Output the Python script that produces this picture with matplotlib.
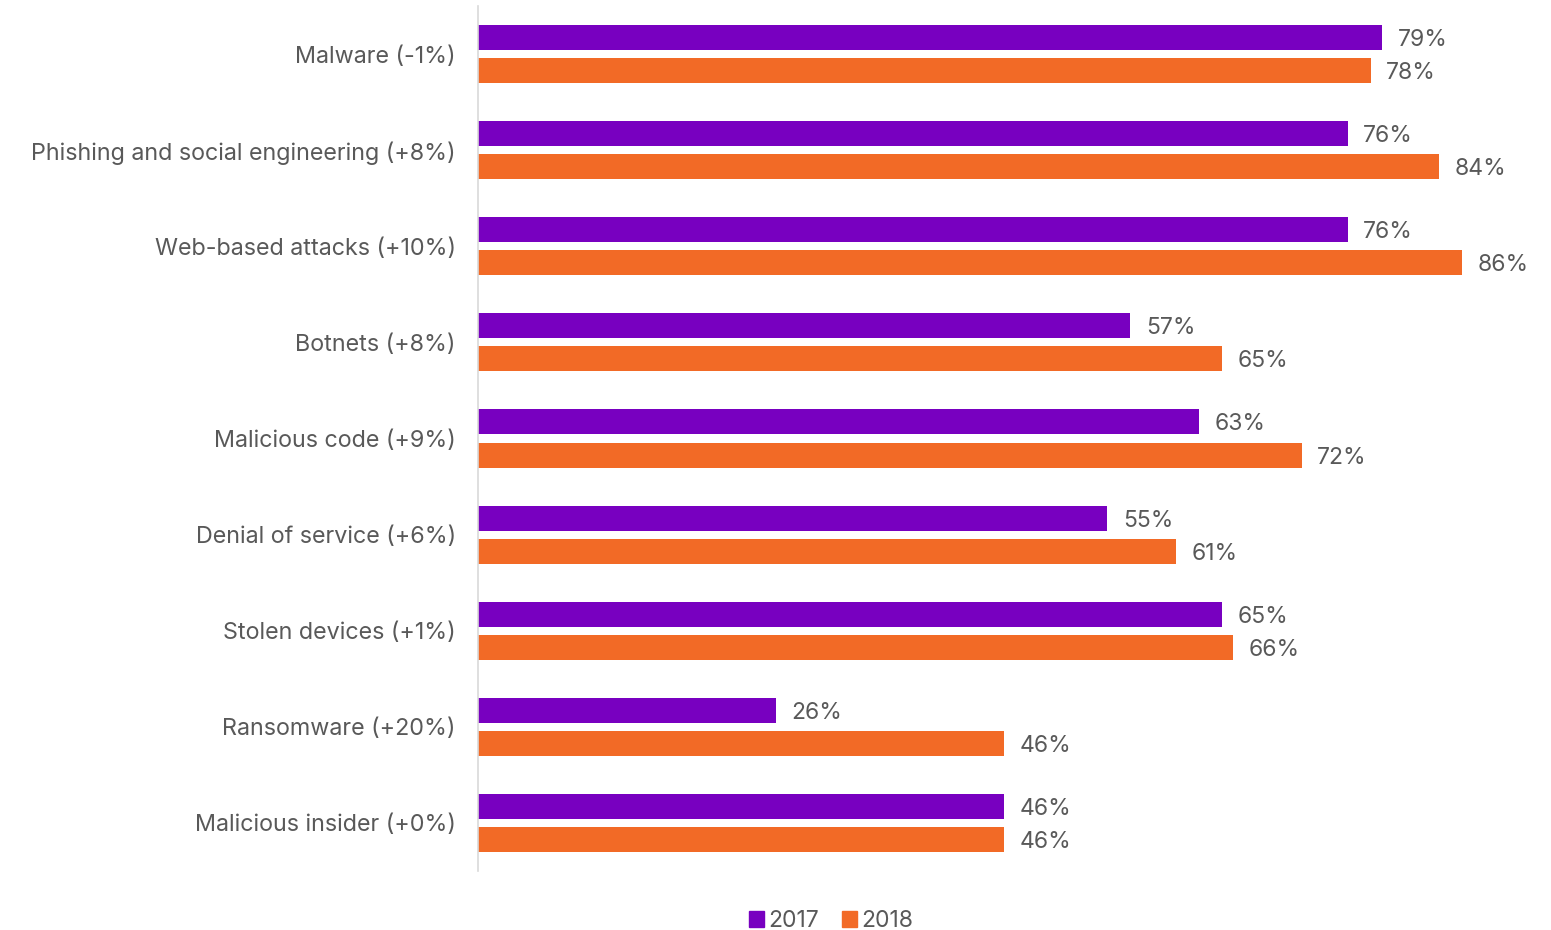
import matplotlib
matplotlib.use("Agg")
import matplotlib.pyplot as plt
from matplotlib.patches import Patch

categories = ["Malware (-1%)", "Phishing and social engineering (+8%)", "Web-based attacks (+10%)",
              "Botnets (+8%)", "Malicious code (+9%)", "Denial of service (+6%)",
              "Stolen devices (+1%)", "Ransomware (+20%)", "Malicious insider (+0%)"]
values_2017 = [79, 76, 76, 57, 63, 55, 65, 26, 46]
values_2018 = [78, 84, 86, 65, 72, 61, 66, 46, 46]
series_labels = ["2017", "2018"]

plt.rcParams['font.family'] = ['Inter', 'DejaVu Sans']
TXT = "#595959"
C17 = "#7800C0"
C18 = "#F26A26"

W, H = 1551, 930
fig = plt.figure(figsize=(W/100, H/100), dpi=100)
left, right = 478, 1540
top, bottom = 6, 871
ax = fig.add_axes([left/W, 1-bottom/H, (right-left)/W, (bottom-top)/H])

scale = 904/79.0  # px per percent
xmax = (right-left)/scale
ax.set_xlim(0, xmax)
n = len(categories)
ax.set_ylim(n-1+0.505, -0.505)

pos = list(range(n))
off = 16.5/96
h = 25/96
tdy = 2.5/96
ax.barh([p-off for p in pos], values_2017, height=h, color=C17)
ax.barh([p+off for p in pos], values_2018, height=h, color=C18)

for p, v in zip(pos, values_2017):
    ax.text(v + 1.35, p-off+tdy, f"{v}%", va="center", ha="left", fontsize=16.5, color=TXT)
for p, v in zip(pos, values_2018):
    ax.text(v + 1.35, p+off+tdy, f"{v}%", va="center", ha="left", fontsize=16.5, color=TXT)

ax.set_yticks(pos)
ax.set_yticklabels(categories, fontsize=16.8, color=TXT)
ax.tick_params(axis='y', length=0, pad=16)
ax.set_xticks([])
for s in ["top", "right", "bottom"]:
    ax.spines[s].set_visible(False)
ax.spines["left"].set_color("#d9d9d9")
ax.spines["left"].set_linewidth(1.2)

handles = [Patch(color=C17, label=series_labels[0]), Patch(color=C18, label=series_labels[1])]
fig.legend(handles=handles, loc="center", bbox_to_anchor=(831/W, 1-921/H), ncol=2, frameon=False,
           fontsize=16.5, labelcolor=TXT, handlelength=0.65, handleheight=0.65, handletextpad=0.2,
           columnspacing=1.0)

fig.savefig("out.png", dpi=100)
